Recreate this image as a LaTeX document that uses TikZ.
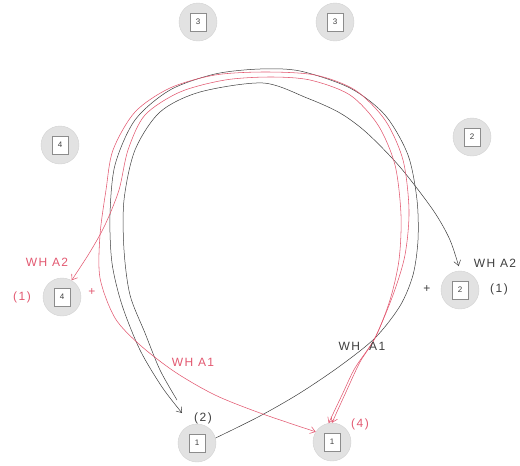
\documentclass[tikz,border=0pt]{standalone}
\usepackage{fontspec}
\setmainfont{Liberation Sans}
\newfontfamily\hand[LetterSpace=12]{Liberation Sans}
\usetikzlibrary{arrows.meta}
\definecolor{pen}{RGB}{226,88,112}
\definecolor{lead}{RGB}{62,62,62}
\definecolor{discgray}{RGB}{226,226,226}
\definecolor{discedge}{RGB}{210,210,210}
\definecolor{boxedge}{RGB}{140,140,140}
\tikzset{
  disc/.style={circle, fill=discgray, draw=discedge, line width=0.4pt, minimum size=38pt, inner sep=0pt},
  numbox/.style={rectangle, fill=white, draw=boxedge, line width=0.7pt, minimum width=16pt, minimum height=18pt, inner sep=0pt, font=\fontsize{8}{8}\selectfont, text=black!75},
  redline/.style={draw=pen, line width=0.55pt},
  blackline/.style={draw=lead, line width=0.5pt},
  barb/.style={-{Straight Barb[length=5pt,width=7pt]}},
  twobarb/.style={{Straight Barb[length=5pt,width=7pt]}-{Straight Barb[length=5pt,width=7pt]}},
  hw/.style={font=\hand\fontsize{12}{12}\selectfont, inner sep=0pt},
  redtxt/.style={hw, text=pen},
  blktxt/.style={hw, text=lead}
}
\begin{document}
\begin{tikzpicture}[x=1pt,y=-1pt]
\useasboundingbox (0,0) rectangle (520,466);

% discs
\node[disc] (n3a) at (198,22) {};
\node[disc] (n3b) at (335,22) {};
\node[disc] (n4t) at (60,145) {};
\node[disc] (n2t) at (472,137) {};
\node[disc] (n4m) at (62,297) {};
\node[disc] (n2m) at (460,290) {};
\node[disc] (n1a) at (197,443) {};
\node[disc] (n1b) at (332,442) {};
\node[numbox] (b3a) at (n3a) {3};
\node[numbox] (b3b) at (n3b) {3};
\node[numbox] (b4t) at (n4t) {4};
\node[numbox] (b2t) at (n2t) {2};
\node[numbox] (b4m) at (n4m) {4};
\node[numbox] (b2m) at (n2m) {2};
\node[numbox] (b1a) at (n1a) {1};
\node[numbox] (b1b) at (n1b) {1};

\coordinate (aend) at (182,413);
\coordinate (bstart) at (177,400);

% black loop from 1a back to 1a
\draw[blackline, barb] plot[smooth] coordinates {(n1a.15) (260,416) (300,393) (340,366) (375,338) (400,306) (413,275) (418,240) (417,200) (408,155) (385,115) (350,88) (300,71) (260,69) (215,74) (170,90) (135,120) (115,165) (110,215) (112,263) (122,305) (140,350) (162,387) (aend)};

% black from 1a to 2
\draw[blackline, barb, shorten >=5pt] plot[smooth] coordinates {(bstart) (160,370) (145,333) (130,295) (124,250) (124,200) (135,150) (160,112) (200,92) (263,83) (307,98) (340,113) (367,133) (400,167) (433,210) (450,240) (n2m.north)};

% red 1b <-> 4
\draw[redline, twobarb] plot[smooth] coordinates {(n1b.100) (342,395) (355,368) (375,338) (390,300) (399,260) (401,215) (395,165) (378,125) (350,95) (310,80) (270,77) (225,80) (180,92) (145,115) (128,150) (119,190) (105,225) (90,252) (n4m.60)};

% red 1b <-> 1b
\draw[redline, twobarb] plot[smooth] coordinates {(n1b.north) (346,392) (360,362) (375,338) (393,295) (405,255) (409,210) (403,160) (385,120) (355,90) (315,75) (265,72) (215,75) (170,88) (135,112) (113,150) (106,190) (100,235) (100,278) (115,318) (140,345) (175,372) (215,395) (260,413) (n1b.148)};

% labels
\node[redtxt] (tA2r) at (47,262) {WH A2};
\node[redtxt] (t1r) at (22,297) {(1)};
\node[redtxt] (plr) at (92,292) {+};
\node[redtxt] (tA1r) at (193,362) {WH A1};
\node[blktxt] (t2) at (203,418) {(2)};
\node[redtxt] (t4) at (360,424) {(4)};
\node[blktxt] (tA1b) at (362,346) {WH\hspace{9pt}A1};
\node[blktxt] (tA2b) at (495,263) {WH A2};
\node[blktxt] (t1b) at (499,289) {(1)};
\node[blktxt] (plb) at (427,289) {+};
\end{tikzpicture}
\end{document}
